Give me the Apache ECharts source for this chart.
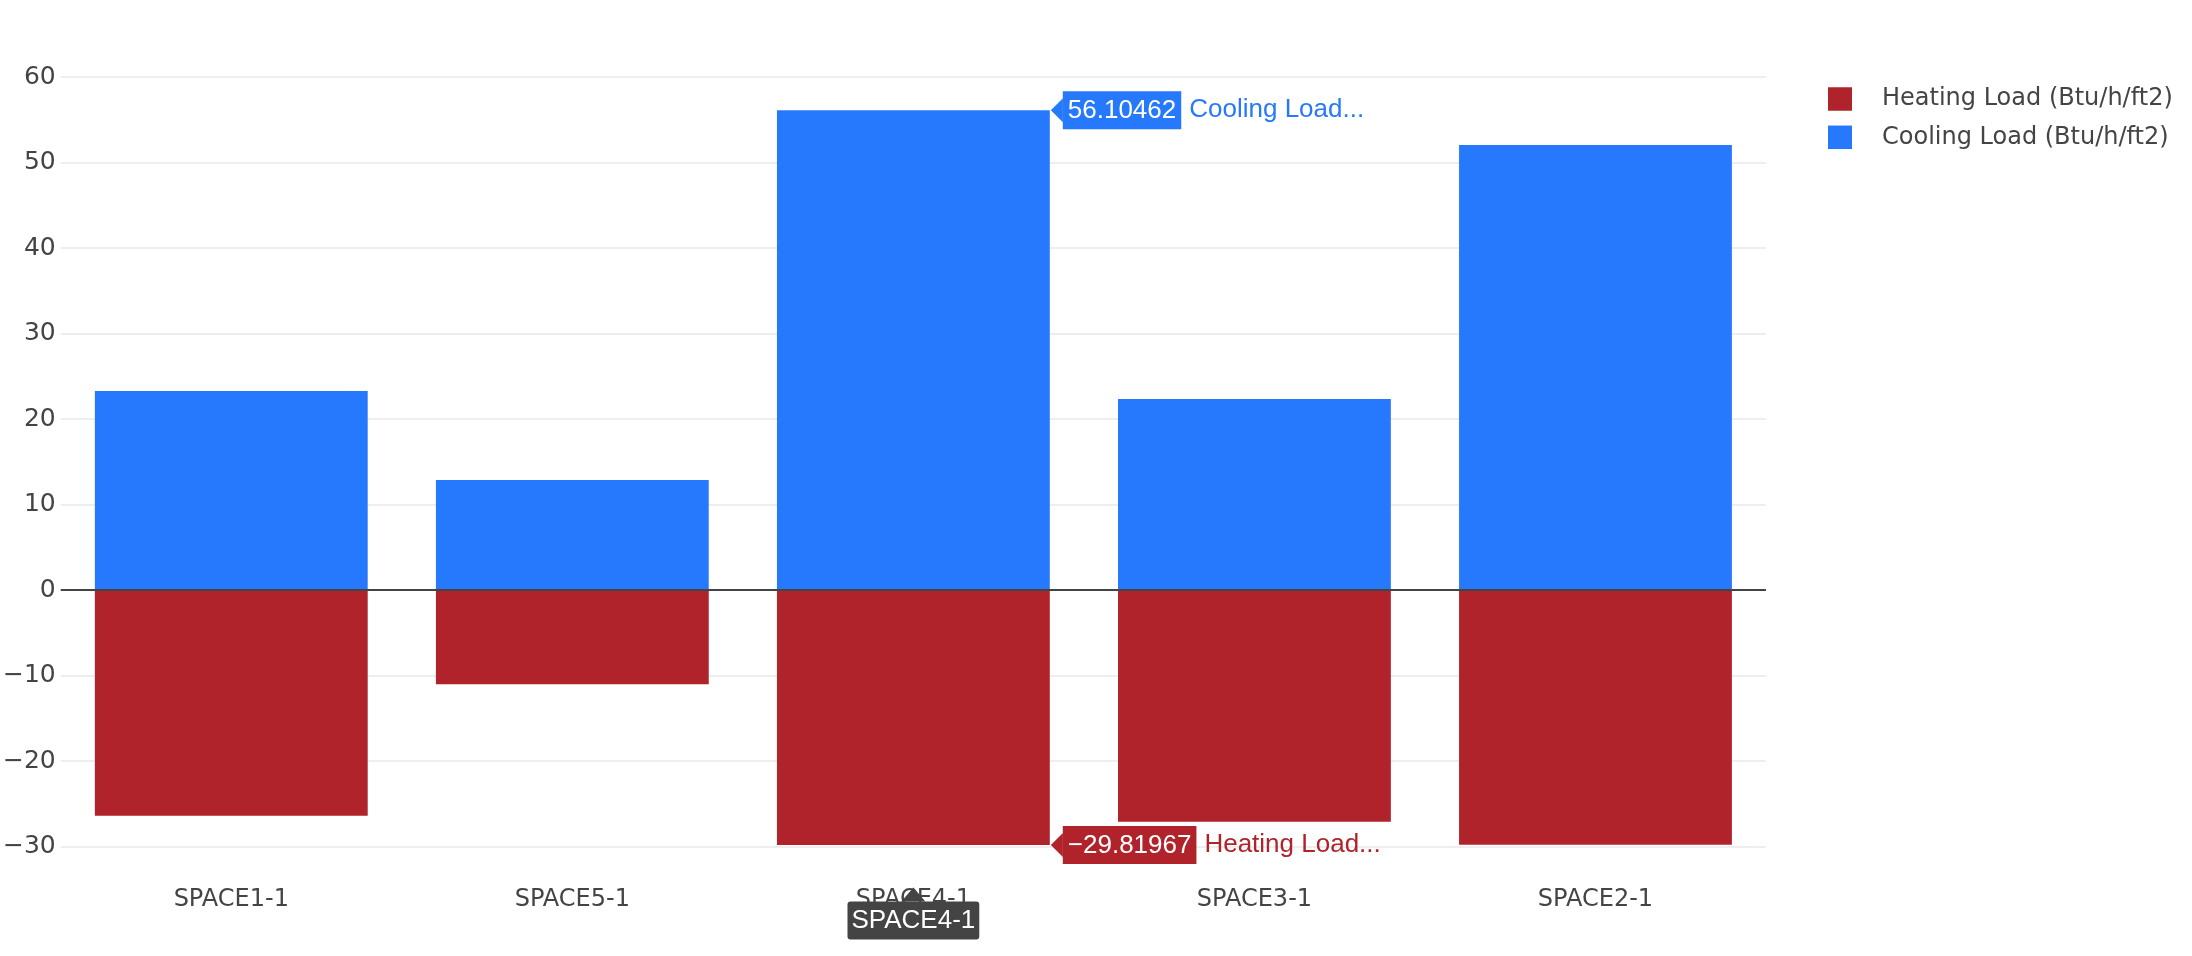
<!DOCTYPE html>
<html>
<head>
<meta charset="utf-8">
<script src="https://cdn.jsdelivr.net/npm/echarts@6/dist/echarts.min.js"></script>
<style>
html,body{margin:0;padding:0;background:#fff;}
#chart{width:2192px;height:956px;}
</style>
</head>
<body>
<div id="chart"></div>
<script>
var categories = ['SPACE1-1', 'SPACE5-1', 'SPACE4-1', 'SPACE3-1', 'SPACE2-1'];
var heatingValues = [-26.4, -11.03, -29.81967, -27.1, -29.8];
var coolingValues = [23.27, 12.87, 56.10462, 22.34, 52.05];
var seriesNames = ['Heating Load (Btu/h/ft2)', 'Cooling Load (Btu/h/ft2)'];
var hoverCategory = 'SPACE4-1';
var hoverShortNames = ['Heating Load...', 'Cooling Load...'];

var HEAT = '#b0232a';
var COOL = '#2679fc';
var hoverIdx = categories.indexOf(hoverCategory);

function hoverLabel(color, name, pos) {
  return {
    show: true,
    position: pos,
    offset: [13, 0],
    align: 'left',
    verticalAlign: 'middle',
    formatter: function (p) { return '{box|' + (p.value < 0 ? '\u2212' + Math.abs(p.value) : p.value) + '}{name|' + name + '}'; },
    rich: {
      box: {color: '#fff', backgroundColor: color, fontFamily: 'Liberation Sans', fontSize: 26, padding: [7, 5, 5, 5], lineHeight: 29},
      name: {color: color, fontFamily: 'Liberation Sans', fontSize: 26, padding: [0, 0, 0, 8], lineHeight: 29}
    }
  };
}

function buildData(values, color, name, pos) {
  return values.map(function (v, i) {
    if (i === hoverIdx) return {value: v, label: hoverLabel(color, name, pos)};
    return v;
  });
}

var arrowLeft = 'path://M0,1 L1,0 L1,2 Z';
var arrowUp = 'path://M1,0 L2,1 L0,1 Z';

var chart = echarts.init(document.getElementById('chart'), null, {renderer: 'canvas'});
chart.setOption({
  animation: false,
  backgroundColor: '#fff',
  grid: {left: 59, right: 426, top: 77, bottom: 109.5, containLabel: false},
  legend: {
    orient: 'vertical',
    left: 1828,
    top: 87,
    padding: 0,
    itemWidth: 24,
    itemHeight: 23.5,
    itemGap: 14.3,
    icon: 'rect',
    data: [seriesNames[0], seriesNames[1]],
    textStyle: {fontFamily: 'DejaVu Sans', fontSize: 24, color: '#444', padding: [3, 0, 0, 25]}
  },
  xAxis: {
    type: 'category',
    data: categories,
    axisLine: {show: false, onZero: false},
    axisTick: {show: false},
    axisLabel: {fontFamily: 'DejaVu Sans', fontSize: 24, color: '#444', margin: 41},
    splitLine: {show: false},
    axisPointer: {
      show: true,
      type: 'line',
      value: hoverCategory,
      status: 'show',
      triggerTooltip: false,
      lineStyle: {opacity: 0},
      label: {
        show: true,
        backgroundColor: '#444',
        color: '#fff',
        fontFamily: 'Liberation Sans',
        fontSize: 26,
        padding: [6, 4, 6, 4],
        margin: 55,
        shadowBlur: 0,
        shadowColor: 'transparent'
      }
    }
  },
  yAxis: {
    type: 'value',
    min: -30,
    max: 60,
    interval: 10,
    axisLine: {show: false},
    axisTick: {show: false},
    axisLabel: {
      fontFamily: 'DejaVu Sans', fontSize: 25, color: '#444', margin: 5,
      formatter: function (v) { return v < 0 ? '\u2212' + Math.abs(v) : String(v); }
    },
    splitLine: {lineStyle: {color: '#eeeeee', width: 2}}
  },
  series: [
    {
      name: seriesNames[0],
      type: 'bar',
      stack: 'load',
      barWidth: '80%',
      itemStyle: {color: HEAT},
      data: buildData(heatingValues, HEAT, hoverShortNames[0], ['100%', '100%']),
      markLine: {
        silent: true,
        symbol: 'none',
        label: {show: false},
        lineStyle: {color: '#444', width: 2, type: 'solid'},
        data: [{yAxis: 0}],
        z: 10
      },
      markPoint: {
        silent: true,
        label: {show: false},
        data: [
          {coord: [hoverCategory, heatingValues[hoverIdx]], symbol: arrowLeft, symbolSize: [12, 24], symbolOffset: [143.5, 0], itemStyle: {color: HEAT}},
          {coord: [hoverCategory, -30], symbol: arrowUp, symbolSize: [24, 14], symbolOffset: [0, 48], itemStyle: {color: '#444'}}
        ]
      }
    },
    {
      name: seriesNames[1],
      type: 'bar',
      stack: 'load',
      barWidth: '80%',
      itemStyle: {color: COOL},
      data: buildData(coolingValues, COOL, hoverShortNames[1], ['100%', 0]),
      markPoint: {
        silent: true,
        label: {show: false},
        data: [
          {coord: [hoverCategory, coolingValues[hoverIdx]], symbol: arrowLeft, symbolSize: [12, 24], symbolOffset: [143.5, 0], itemStyle: {color: COOL}}
        ]
      }
    }
  ]
});
</script>
</body>
</html>
